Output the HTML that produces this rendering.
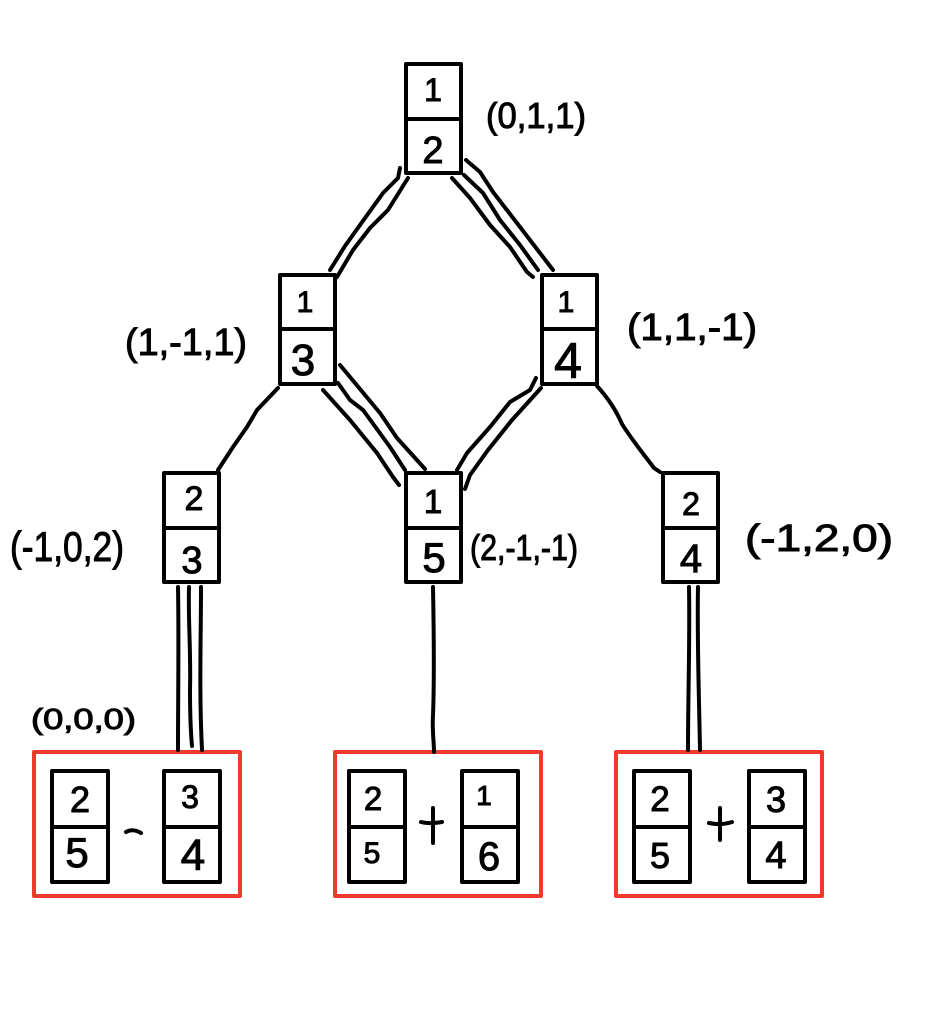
<!DOCTYPE html>
<html><head><meta charset="utf-8"><style>
html,body{margin:0;padding:0;background:#fff}
svg{display:block}
.b{fill:none;stroke:#000;stroke-width:4;stroke-linejoin:round}
.l{fill:none;stroke:#000;stroke-width:4;stroke-linecap:round;stroke-linejoin:round}
.r{fill:none;stroke:#f03b2b;stroke-width:4;stroke-linejoin:round}
text{font-family:"Liberation Sans",sans-serif;fill:#000;stroke:#000;stroke-width:1;text-anchor:middle}
.t{text-anchor:start}
</style></head><body>
<svg width="928" height="1020" viewBox="0 0 928 1020" xmlns="http://www.w3.org/2000/svg">
<rect width="928" height="1020" fill="#fff"/>
<!-- nodes -->
<g class="b">
<path d="M406 64h55v109h-55zM406 119h55"/>
<path d="M280 275h55v109h-55zM280 329h55"/>
<path d="M542 275h55v109h-55zM542 329h55"/>
<path d="M164 473h55v109h-55zM164 528h55"/>
<path d="M406 473h55v109h-55zM406 528h55"/>
<path d="M663 473h55v109h-55zM663 528h55"/>
<path d="M52 771h56v111h-56zM52 827h56"/>
<path d="M164 771h56v111h-56zM164 827h56"/>
<path d="M349 771h56v111h-56zM349 827h56"/>
<path d="M462 771h56v111h-56zM462 827h56"/>
<path d="M634 771h56v111h-56zM634 827h56"/>
<path d="M749 771h56v111h-56zM749 827h56"/>
</g>
<g class="r">
<rect x="34" y="752" width="206" height="144"/>
<rect x="335" y="752" width="206" height="144"/>
<rect x="616" y="752" width="206" height="144"/>
</g>
<!-- connectors -->
<g class="l">
<path d="M400 168L398 178L383 193L360 225L345 246L330 270"/>
<path d="M408 178L388 210L370 228L353 250L337 277"/>
<path d="M466 160L480 172L493 192L520 227L553 270"/>
<path d="M464 175L483 193L500 220L520 245L538 270"/>
<path d="M452 178L470 198L490 225L510 247L527 272L533 277"/>
<path d="M323 390L350 420L377 453L393 477L399 485"/>
<path d="M338 383L350 400L363 410L390 447L405 470"/>
<path d="M340 365L380 413L397 438L425 469"/>
<path d="M536 378L530 390L510 402L490 427L467 453L457 470"/>
<path d="M541 388L512 420L488 450L470 475L465 489"/>
<path d="M278 388L257 410L247 427L233 447L218 470"/>
<path d="M597 386C608 398 616 410 622 424C632 440 642 452 654 468L660 472"/>
<path d="M178 587C179 640 178 695 178 750"/>
<path d="M189 587C188 620 191 650 190 690C190 715 191 735 192 746"/>
<path d="M201 587C201 640 199 690 202 750"/>
<path d="M433 587C434 640 434 690 433 715C432 730 434 742 434 752"/>
<path d="M689 587C690 640 688 695 688 750"/>
<path d="M698 587C697 640 699 695 700 750"/>
<path d="M126 832C131 829 136 830 141 833"/>
<path d="M433 808V843M421 822C428 824 436 823 442 822"/>
<path d="M720 808V840M709 823C718 825 726 824 732 822"/>
</g>
<!-- digits -->
<text x="433" y="101" font-size="32">1</text><text x="433" y="163" font-size="38">2</text>
<text x="305" y="312" font-size="30">1</text><text x="303" y="375" font-size="44">3</text>
<text x="566" y="312" font-size="30">1</text><text x="568" y="378" font-size="50">4</text>
<text x="194" y="510" font-size="34">2</text><text x="192" y="573" font-size="38">3</text>
<text x="433" y="513" font-size="33">1</text><text x="434" y="572" font-size="42">5</text>
<text x="691" y="515" font-size="32">2</text><text x="691" y="572" font-size="40">4</text>
<text x="80" y="812" font-size="36">2</text><text x="77" y="867" font-size="42">5</text>
<text x="190" y="808" font-size="32">3</text><text x="193" y="870" font-size="44">4</text>
<text x="373" y="810" font-size="33">2</text><text x="372" y="863" font-size="30">5</text>
<text x="484" y="805" font-size="28">1</text><text x="489" y="870" font-size="40">6</text>
<text x="660" y="811" font-size="35">2</text><text x="660" y="868" font-size="36">5</text>
<text x="776" y="812" font-size="36">3</text><text x="776" y="868" font-size="38">4</text>
<!-- labels -->
<text class="t" x="486" y="128" font-size="36" textLength="100" lengthAdjust="spacingAndGlyphs">(0,1,1)</text>
<text class="t" x="125" y="355" font-size="38" textLength="122" lengthAdjust="spacingAndGlyphs">(1,-1,1)</text>
<text class="t" x="627" y="340" font-size="38" textLength="130" lengthAdjust="spacingAndGlyphs">(1,1,-1)</text>
<text class="t" x="10" y="561" font-size="42" textLength="114" lengthAdjust="spacingAndGlyphs">(-1,0,2)</text>
<text class="t" x="470" y="560" font-size="36" textLength="108" lengthAdjust="spacingAndGlyphs">(2,-1,-1)</text>
<text class="t" x="745" y="551" font-size="38" textLength="148" lengthAdjust="spacingAndGlyphs">(-1,2,0)</text>
<text class="t" x="31" y="729" font-size="29" textLength="105" lengthAdjust="spacingAndGlyphs">(0,0,0)</text>
</svg>
</body></html>
